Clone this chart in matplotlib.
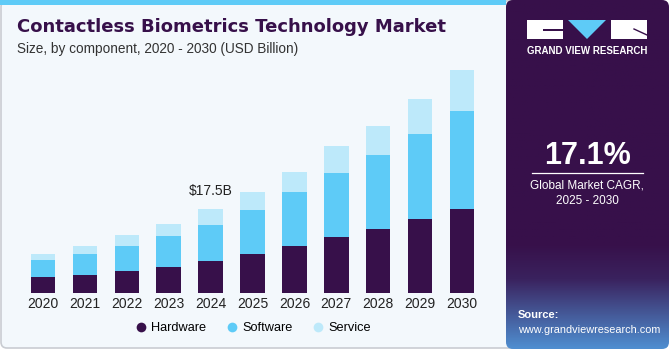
import numpy as np
import matplotlib
matplotlib.use("Agg")
import matplotlib.pyplot as plt
from matplotlib.patches import Rectangle, FancyBboxPatch, Polygon
from matplotlib.lines import Line2D

plt.rcParams["font.family"] = ["Liberation Sans", "DejaVu Sans"]

years = ["2020", "2021", "2022", "2023", "2024", "2025", "2026", "2027", "2028", "2029", "2030"]
hardware = [3.33, 3.81, 4.58, 5.54, 6.73, 8.12, 9.79, 11.67, 13.33, 15.41, 17.50]
software = [3.60, 4.44, 5.27, 6.39, 7.56, 9.29, 11.31, 13.46, 15.54, 17.83, 20.48]
service = [1.25, 1.67, 2.23, 2.44, 3.21, 3.62, 4.23, 5.56, 5.98, 7.17, 8.48]
series_names = ["Hardware", "Software", "Service"]
colors = ["#37104a", "#5ecbf7", "#bde9fa"]
annot_label = "$17.5B"
annot_index = 4

W, H = 670, 350
fig = plt.figure(figsize=(W / 100, H / 100), dpi=100)
fig.patch.set_facecolor("white")

# background layer
bg = fig.add_axes([0, 0, 1, 1])
bg.set_xlim(0, W)
bg.set_ylim(H, 0)
bg.axis("off")
bg.add_patch(FancyBboxPatch((1, 1), 520, H - 3, boxstyle="round,pad=0,rounding_size=6",
                            facecolor="#f3f8fc", edgecolor="#c9ccd2", linewidth=1.2))
bg.add_patch(Rectangle((0, 0), 506, 5, facecolor="#5ecbf7", edgecolor="none"))

# right panel with gradient
grad = np.linspace(0, 1, 200)
c_top = np.array([0x37, 0x10, 0x4a]) / 255
c_mid = np.array([0x3a, 0x22, 0x5e]) / 255
c_bot = np.array([0x4f, 0x8e, 0xd0]) / 255
img = np.zeros((200, 1, 3))
for i, g in enumerate(grad):
    if g < 0.70:
        img[i, 0] = c_top
    elif g < 0.80:
        t = (g - 0.70) / 0.10
        img[i, 0] = c_top * (1 - t) + c_mid * t
    else:
        t = (g - 0.80) / 0.20
        img[i, 0] = c_mid * (1 - t) + c_bot * t
clip = FancyBboxPatch((506, 0), 163, H - 1, boxstyle="round,pad=0,rounding_size=7",
                      facecolor="none", edgecolor="none")
bg.add_patch(clip)
im = bg.imshow(img, extent=(506, 669, H - 1, 0), aspect="auto", zorder=2)
im.set_clip_path(clip)

# logo
bg.add_patch(Rectangle((527, 20), 36, 19, facecolor="white", edgecolor="none", zorder=3))
bg.add_patch(Rectangle((543, 29), 20, 2, facecolor="#37104a", edgecolor="none", zorder=4))
bg.add_patch(Polygon([(568, 20), (606, 20), (587, 39)], closed=True, facecolor="#5ecbf7",
                     edgecolor="none", zorder=3))
bg.add_patch(Rectangle((611, 20), 36, 19, facecolor="white", edgecolor="none", zorder=3))
bg.plot([634, 647], [29, 35], color="#37104a", lw=1, zorder=4)
bg.text(587, 51, "GRAND VIEW RESEARCH", color="white", fontsize=7.0, fontweight="bold",
        ha="center", va="center", zorder=4)

bg.text(587, 156, "17.1%", color="white", fontsize=22, fontweight="bold",
        ha="center", va="center", zorder=4)
bg.plot([532, 643], [173, 173], color="white", lw=0.9, zorder=4)
bg.text(587, 185, "Global Market CAGR,", color="white", fontsize=8.5,
        ha="center", va="center", zorder=4)
bg.text(587, 201, "2025 - 2030", color="white", fontsize=8.5,
        ha="center", va="center", zorder=4)
bg.text(518, 315, "Source:", color="white", fontsize=8.0, fontweight="bold",
        ha="left", va="center", zorder=4)
bg.text(518, 330, "www.grandviewresearch.com", color="white", fontsize=7.8,
        ha="left", va="center", zorder=4)

# titles
bg.text(17, 27, "Contactless Biometrics Technology Market", color="#37104a",
        fontsize=13, fontweight="heavy", family="DejaVu Sans", ha="left", va="center")
bg.text(17, 49, "Size, by component, 2020 - 2030 (USD Billion)", color="#333333",
        fontsize=9.8, ha="left", va="center")

# chart axes
spacing = 41.9
left_px = 43 - 0.5 * spacing
base_px = 293.3
scale = 17.5 / 84.0
ax_h_px = 240
ax = fig.add_axes([left_px / W, (H - base_px) / H, 11 * spacing / W, ax_h_px / H])
ax.set_xlim(-0.5, 10.5)
ax.set_ylim(0, ax_h_px * scale)
ax.patch.set_alpha(0)
for s in ax.spines.values():
    s.set_visible(False)
ax.set_yticks([])

x = np.arange(len(years))
bw = 0.585
bottom = np.zeros(len(years))
for vals, name, col in zip([hardware, software, service], series_names, colors):
    ax.bar(x, vals, bw, bottom=bottom, color=col, edgecolor="none", label=name, zorder=2)
    bottom = bottom + np.array(vals)

ax.set_xticks(x)
ax.set_xticklabels(years, fontsize=10, color="#222222")
ax.tick_params(axis="x", length=0, pad=3)

ax.text(annot_index, bottom[annot_index] + 2.3, annot_label, ha="center", va="bottom",
        fontsize=10, color="#222222")

handles = [Line2D([0], [0], marker="o", linestyle="none", markersize=7,
                  markerfacecolor=c, markeredgecolor="none") for c in colors]
fig.legend(handles, series_names, loc="center", bbox_to_anchor=(253 / W, 1 - 328 / H),
           ncol=3, frameon=False, fontsize=9.2, handletextpad=0.3, columnspacing=1.5,
           handlelength=1.0)

fig.savefig("out.png", dpi=100, facecolor=fig.get_facecolor())
